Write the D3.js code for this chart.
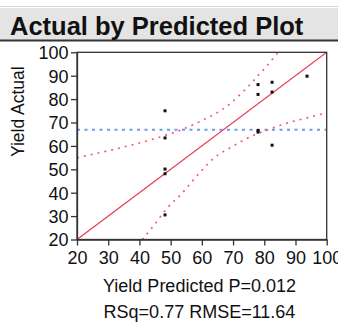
<!DOCTYPE html>
<html>
<head>
<meta charset="utf-8">
<script src="https://cdn.jsdelivr.net/npm/d3@7"></script>
<style>
    body { margin: 0; background: #fff; }
    text { font-family: "Liberation Sans", Arial, sans-serif; }
</style>
</head>
<body>
<script>
// Values
var predicted = [48.2, 48.2, 48.2, 48.2, 48.2, 78, 78, 78, 78,
                 82.5, 82.5, 82.5, 93.7];
var actual = [75, 63.4, 50.1, 48.1, 30.5, 86.2, 82, 66.6, 65.9,
              87.2, 83, 60.3, 89.8];
var meanActual = 66.9;

// Confidence curve, upper branch
var upperX = [20, 25.3, 29.9, 34.4, 39.2, 44.0, 48.3, 53.1, 57.3, 61.6,
              65.9, 69.6, 73.3, 76.0, 78.1, 81.3, 84.0, 84.5];
var upperY = [54.9, 56.5, 57.9, 59.3, 61.0, 62.7, 64.5, 66.7, 69.1, 71.9,
              75.0, 78.7, 83.3, 87.0, 90.2, 94.9, 99.3, 100];
// Confidence curve, lower branch
var lowerX = [40.9, 44.5, 48.8, 53.6, 56.8, 60.0, 63.7, 69.6, 73.3, 76.5,
              80.8, 85.1, 89.3, 93.6, 98.9, 100];
var lowerY = [20, 25.8, 33.3, 39.7, 44.7, 49.6, 54.6, 59.6, 62.4, 64.5,
              66.7, 68.8, 70.5, 71.9, 73.8, 74.1];

var ticks = [20, 30, 40, 50, 60, 70, 80, 90, 100];
var title = "Actual by Predicted Plot";
var xTitle = "Yield Predicted P=0.012";
var yTitle = "Yield Actual";
var statsText = "RSq=0.77 RMSE=11.64";

var W = 338, H = 322;

var svg = d3.select("body").append("svg")
    .attr("width", W)
    .attr("height", H);

// Title bar
svg.append("line")
    .attr("x1", 0).attr("x2", W).attr("y1", 6.5).attr("y2", 6.5)
    .attr("stroke", "#d4d4d4");
svg.append("rect")
    .attr("x", 0).attr("y", 8).attr("width", W).attr("height", 32)
    .attr("fill", "#e4e4e4");
svg.append("line")
    .attr("x1", 0).attr("x2", W).attr("y1", 40.5).attr("y2", 40.5)
    .attr("stroke", "#333").attr("stroke-width", 2);
svg.append("text")
    .attr("x", 10).attr("y", 35)
    .attr("font-size", 25.5).attr("font-weight", "bold").attr("fill", "#111")
    .text(title);

var x = d3.scaleLinear().domain([20, 100]).range([77, 326.7]);
var y = d3.scaleLinear().domain([20, 100]).range([239.5, 52.3]);

var plot = svg.append("g");

svg.append("defs").append("clipPath").attr("id", "clip")
    .append("rect")
    .attr("x", x(20)).attr("y", y(100))
    .attr("width", x(100) - x(20)).attr("height", y(20) - y(100));

var inner = plot.append("g").attr("clip-path", "url(#clip)");

// Mean line
inner.append("line")
    .attr("x1", x(20)).attr("x2", x(100))
    .attr("y1", y(meanActual)).attr("y2", y(meanActual))
    .attr("stroke", "#6a9af5").attr("stroke-width", 1.8)
    .attr("stroke-dasharray", "3,4.5");

// Fit line
inner.append("line")
    .attr("x1", x(20)).attr("y1", y(20))
    .attr("x2", x(100)).attr("y2", y(100))
    .attr("stroke", "#ec3550").attr("stroke-width", 1.2);

// Confidence curves
var curve = d3.line()
    .x(function(d) { return x(d[0]); })
    .y(function(d) { return y(d[1]); })
    .curve(d3.curveMonotoneX);

[d3.zip(upperX, upperY), d3.zip(lowerX, lowerY)].forEach(function(pts) {
    inner.append("path")
        .attr("d", curve(pts))
        .attr("fill", "none")
        .attr("stroke", "#f0566c").attr("stroke-width", 1.6)
        .attr("stroke-dasharray", "2,5");
});

// Points
inner.selectAll("rect.pt")
    .data(d3.zip(predicted, actual))
    .enter().append("rect")
    .attr("class", "pt")
    .attr("x", function(d) { return x(d[0]) - 1.5; })
    .attr("y", function(d) { return y(d[1]) - 1.5; })
    .attr("width", 3).attr("height", 3)
    .attr("fill", "#111");

// Frame
plot.append("rect")
    .attr("x", x(20)).attr("y", y(100))
    .attr("width", x(100) - x(20)).attr("height", y(20) - y(100))
    .attr("fill", "none").attr("stroke", "#333").attr("stroke-width", 1.3);

// Axes
var xAxis = plot.append("g")
    .attr("transform", "translate(0," + y(20) + ")")
    .call(d3.axisBottom(x).tickValues(ticks).tickSize(6).tickSizeOuter(0)
        .tickFormat(d3.format("d")));
xAxis.selectAll("text").attr("y", 24).attr("dy", 0);

var yAxis = plot.append("g")
    .attr("transform", "translate(" + x(20) + ",0)")
    .call(d3.axisLeft(y).tickValues(ticks).tickSize(6).tickSizeOuter(0)
        .tickFormat(d3.format("d")));
yAxis.selectAll("text").attr("x", -8.5).attr("dy", "0.36em");

[xAxis, yAxis].forEach(function(a) {
    a.selectAll("text")
        .attr("font-family", "'Liberation Sans', Arial, sans-serif")
        .attr("font-size", 18).attr("fill", "#111");
    a.selectAll("line").attr("stroke", "#333").attr("stroke-width", 1.3);
    a.select(".domain").attr("stroke", "#333").attr("stroke-width", 1.3);
});

// Axis titles
svg.append("text")
    .attr("x", 199.5).attr("y", 292)
    .attr("text-anchor", "middle").attr("font-size", 18)
    .attr("fill", "#111")
    .text(xTitle);
svg.append("text")
    .attr("x", 199.5).attr("y", 318)
    .attr("text-anchor", "middle").attr("font-size", 18)
    .attr("fill", "#111")
    .text(statsText);
svg.append("text")
    .attr("transform", "translate(24,111.7) rotate(-90)")
    .attr("text-anchor", "middle").attr("font-size", 17.5)
    .attr("fill", "#111")
    .text(yTitle);
</script>
</body>
</html>
